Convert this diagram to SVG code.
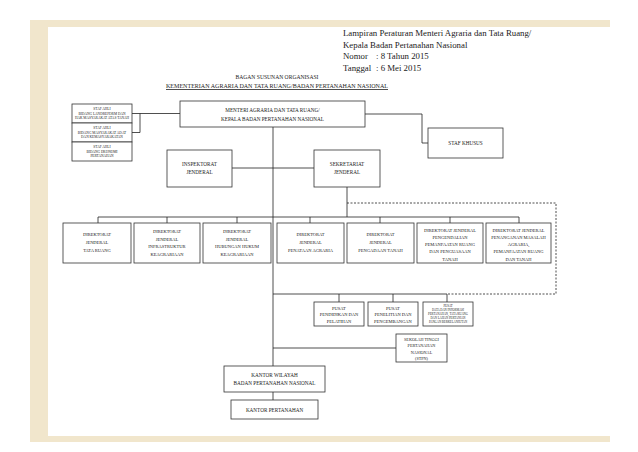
<svg xmlns="http://www.w3.org/2000/svg" width="638" height="452" viewBox="0 0 638 452">
<style>
.box{fill:#fff;stroke:#333;stroke-width:0.8}
.ln{stroke:#222;stroke-width:0.8;fill:none}
.dash{stroke:#222;stroke-width:0.8;fill:none;stroke-dasharray:2,1.5}
text{font-family:"Liberation Serif","Times New Roman",serif;fill:#222}
.t{font-size:4.5px;text-anchor:middle}
.m{font-size:5.2px;text-anchor:middle}
.s{font-size:3.5px;text-anchor:middle}
.h{font-size:8.8px}
</style>
<rect x="0" y="0" width="638" height="452" fill="#fff"/>
<rect x="30" y="20" width="580" height="422" fill="#f1e6cc"/>
<rect x="48" y="27" width="562" height="409" fill="#fff"/>

<g id="header">
<text class="h" x="343" y="36">Lampiran Peraturan Menteri Agraria dan Tata Ruang/</text>
<text class="h" x="343" y="47.5">Kepala Badan Pertanahan Nasional</text>
<text class="h" y="59"><tspan x="343">Nomor</tspan><tspan x="376">: 8 Tahun 2015</tspan></text>
<text class="h" y="70.5"><tspan x="343">Tanggal</tspan><tspan x="376">: 6 Mei 2015</tspan></text>
</g>
<g id="title">
<text class="m" x="277" y="79" style="font-size:5.6px">BAGAN SUSUNAN ORGANISASI</text>
<text class="m" x="277" y="88" style="font-size:5.6px" textLength="222" lengthAdjust="spacingAndGlyphs">KEMENTERIAN AGRARIA DAN TATA RUANG/BADAN PERTANAHAN NASIONAL</text>
<line class="ln" x1="166" y1="89.5" x2="388" y2="89.5" stroke-width="0.6"/>
</g>

<g id="connectors">
<line class="ln" x1="132" y1="113.5" x2="180" y2="113.5"/>
<line class="ln" x1="132" y1="132.5" x2="140" y2="132.5"/>
<line class="ln" x1="140" y1="113.5" x2="140" y2="132.5"/>
<polyline class="ln" points="365,114 422,114 422,143 428,143"/>
<line class="ln" x1="273" y1="127" x2="273" y2="366"/>
<line class="ln" x1="273" y1="392" x2="273" y2="400"/>
<line class="ln" x1="232" y1="168" x2="314" y2="168"/>
<line class="ln" x1="347" y1="187" x2="347" y2="217"/>
<line class="ln" x1="98" y1="217" x2="519" y2="217"/>
<line class="ln" x1="98" y1="217" x2="98" y2="223"/>
<line class="ln" x1="167" y1="217" x2="167" y2="223"/>
<line class="ln" x1="237" y1="217" x2="237" y2="223"/>
<line class="ln" x1="310" y1="217" x2="310" y2="223"/>
<line class="ln" x1="380" y1="217" x2="380" y2="223"/>
<line class="ln" x1="450" y1="217" x2="450" y2="223"/>
<line class="ln" x1="519" y1="217" x2="519" y2="223"/>
<polyline class="dash" points="347,203 556,203 556,294 447,294"/>
<line class="ln" x1="273" y1="294" x2="447" y2="294"/>
<line class="ln" x1="339" y1="294" x2="339" y2="302"/>
<line class="ln" x1="393" y1="294" x2="393" y2="302"/>
<line class="ln" x1="447" y1="294" x2="447" y2="302"/>
<line class="ln" x1="273" y1="348" x2="396" y2="348"/>
</g>

<g id="menteri">
<rect class="box" x="180" y="101" width="185" height="26"/>
<text class="m" x="272.5" y="112">MENTERI AGRARIA DAN TATA RUANG/</text>
<text class="m" x="272.5" y="120.5">KEPALA BADAN PERTANAHAN NASIONAL</text>
</g>

<g id="staf-ahli-1">
<rect class="box" x="72" y="104" width="60" height="19"/>
<text class="s" x="102" y="110">STAF AHLI</text>
<text class="s" x="102" y="114.5">BIDANG LANDREFORM DAN</text>
<text class="s" x="102" y="119">HAK MASYARAKAT ATAS TANAH</text>
</g>
<g id="staf-ahli-2">
<rect class="box" x="72" y="123" width="60" height="19"/>
<text class="s" x="102" y="129">STAF AHLI</text>
<text class="s" x="102" y="133.5">BIDANG MASYARAKAT ADAT</text>
<text class="s" x="102" y="138">DAN KEMASYARAKATAN</text>
</g>
<g id="staf-ahli-3">
<rect class="box" x="72" y="142" width="60" height="19"/>
<text class="s" x="102" y="148">STAF AHLI</text>
<text class="s" x="102" y="152.5">BIDANG EKONOMI</text>
<text class="s" x="102" y="157">PERTANAHAN</text>
</g>

<g id="staf-khusus">
<rect class="box" x="428" y="128" width="75" height="30"/>
<text class="m" x="465.5" y="144.5">STAF KHUSUS</text>
</g>

<g id="inspektorat">
<rect class="box" x="167" y="150" width="65" height="37"/>
<text class="m" x="199.5" y="166">INSPEKTORAT</text>
<text class="m" x="199.5" y="174">JENDERAL</text>
</g>
<g id="sekretariat">
<rect class="box" x="314" y="150" width="66" height="37"/>
<text class="m" x="347" y="166">SEKRETARIAT</text>
<text class="m" x="347" y="174">JENDERAL</text>
</g>

<g id="dj-tata-ruang">
<rect class="box" x="63" y="223" width="68" height="40"/>
<text class="t" x="97" y="236">DIREKTORAT</text>
<text class="t" x="97" y="244">JENDERAL</text>
<text class="t" x="97" y="252">TATA RUANG</text>
</g>
<g id="dj-infrastruktur">
<rect class="box" x="134" y="223" width="66" height="40"/>
<text class="t" x="167" y="233">DIREKTORAT</text>
<text class="t" x="167" y="240.5">JENDERAL</text>
<text class="t" x="167" y="248">INFRASTRUKTUR</text>
<text class="t" x="167" y="255.5">KEAGRARIAAN</text>
</g>
<g id="dj-hubungan-hukum">
<rect class="box" x="203" y="223" width="68" height="40"/>
<text class="t" x="237" y="233">DIREKTORAT</text>
<text class="t" x="237" y="240.5">JENDERAL</text>
<text class="t" x="237" y="248">HUBUNGAN HUKUM</text>
<text class="t" x="237" y="255.5">KEAGRARIAAN</text>
</g>
<g id="dj-penataan-agraria">
<rect class="box" x="277" y="223" width="67" height="40"/>
<text class="t" x="310.5" y="236">DIREKTORAT</text>
<text class="t" x="310.5" y="244">JENDERAL</text>
<text class="t" x="310.5" y="252">PENATAAN AGRARIA</text>
</g>
<g id="dj-pengadaan-tanah">
<rect class="box" x="347" y="223" width="67" height="40"/>
<text class="t" x="380.5" y="236">DIREKTORAT</text>
<text class="t" x="380.5" y="244">JENDERAL</text>
<text class="t" x="380.5" y="252">PENGADAAN TANAH</text>
</g>
<g id="dj-pengendalian">
<rect class="box" x="417" y="223" width="66" height="40"/>
<text class="t" x="450" y="231.5">DIREKTORAT JENDERAL</text>
<text class="t" x="450" y="238.8">PENGENDALIAN</text>
<text class="t" x="450" y="246.1">PEMANFAATAN RUANG</text>
<text class="t" x="450" y="253.4">DAN PENGUASAAN</text>
<text class="t" x="450" y="260.7">TANAH</text>
</g>
<g id="dj-penanganan-masalah">
<rect class="box" x="486" y="223" width="65" height="40"/>
<text class="t" x="518.5" y="231.5">DIREKTORAT JENDERAL</text>
<text class="t" x="518.5" y="238.8">PENANGANAN MASALAH</text>
<text class="t" x="518.5" y="246.1">AGRARIA,</text>
<text class="t" x="518.5" y="253.4">PEMANFAATAN RUANG</text>
<text class="t" x="518.5" y="260.7">DAN TANAH</text>
</g>

<g id="pusat-diklat">
<rect class="box" x="314" y="302" width="50" height="24"/>
<text class="t" x="339" y="309.5">PUSAT</text>
<text class="t" x="339" y="316">PENDIDIKAN DAN</text>
<text class="t" x="339" y="322.5">PELATIHAN</text>
</g>
<g id="pusat-litbang">
<rect class="box" x="368" y="302" width="50" height="24"/>
<text class="t" x="393" y="309.5">PUSAT</text>
<text class="t" x="393" y="316">PENELITIAN DAN</text>
<text class="t" x="393" y="322.5">PENGEMBANGAN</text>
</g>
<g id="pusat-data">
<rect class="box" x="423" y="302" width="50" height="24"/>
<text class="s" x="448" y="307" style="font-size:3px">PUSAT</text>
<text class="s" x="448" y="311" style="font-size:3px">DATA DAN INFORMASI</text>
<text class="s" x="448" y="315" style="font-size:3px">PERTANAHAN, TATA RUANG</text>
<text class="s" x="448" y="319" style="font-size:3px">DAN LAHAN PERTANIAN</text>
<text class="s" x="448" y="323" style="font-size:3px">PANGAN BERKELANJUTAN</text>
</g>

<g id="stpn">
<rect class="box" x="396" y="334" width="51" height="28"/>
<text class="t" x="421.5" y="341" style="font-size:4.2px">SEKOLAH TINGGI</text>
<text class="t" x="421.5" y="347.3" style="font-size:4.2px">PERTANAHAN</text>
<text class="t" x="421.5" y="353.6" style="font-size:4.2px">NASIONAL</text>
<text class="t" x="421.5" y="359.9" style="font-size:4.2px">(STPN)</text>
</g>

<g id="kantor-wilayah">
<rect class="box" x="224" y="366" width="101" height="26"/>
<text class="m" x="274.5" y="377">KANTOR WILAYAH</text>
<text class="m" x="274.5" y="385">BADAN PERTANAHAN NASIONAL</text>
</g>
<g id="kantor-pertanahan">
<rect class="box" x="231" y="400" width="87" height="19"/>
<text class="m" x="274.5" y="411.5">KANTOR PERTANAHAN</text>
</g>
</svg>
